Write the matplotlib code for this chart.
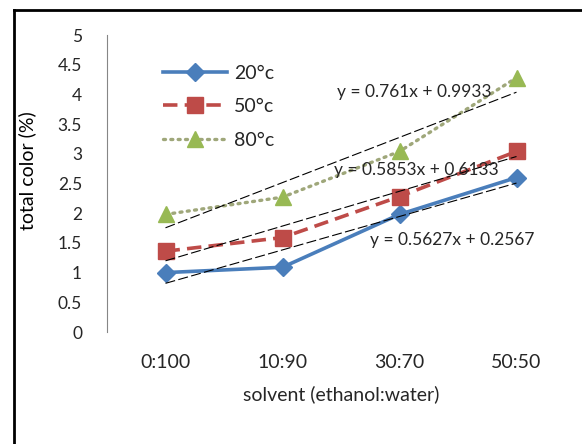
import numpy as np
import matplotlib
matplotlib.use("Agg")
import matplotlib.pyplot as plt
from matplotlib.lines import Line2D

plt.rcParams['font.family'] = ['Lato', 'DejaVu Sans']

# data
categories = ["0:100", "10:90", "30:70", "50:50"]
temp_20 = [1.00, 1.09, 1.98, 2.60]
temp_50 = [1.36, 1.59, 2.28, 3.04]
temp_80 = [1.98, 2.27, 3.04, 4.28]
series_labels = ["20°c", "50°c", "80°c"]
trend_slope = [0.5627, 0.5853, 0.761]
trend_icpt = [0.2567, 0.6133, 0.9933]
trend_text = ["y = 0.5627x + 0.2567", "y = 0.5853x + 0.6133", "y = 0.761x + 0.9933"]
yticks = [0, 0.5, 1, 1.5, 2, 2.5, 3, 3.5, 4, 4.5, 5]

W, H = 582, 444
fig = plt.figure(figsize=(W / 100, H / 100), dpi=100)
ax = fig.add_axes([107 / W, 1 - 332 / H, (575 - 107) / W, (332 - 35) / H])

x = np.arange(len(categories))
ax.plot(x, temp_20, color='#4A7EBB', lw=2.6, marker='D', ms=9.5, label=series_labels[0])
ax.plot(x, temp_50, color='#BE4B48', lw=2.6, ls=(0, (4, 2)), marker='s', ms=11, label=series_labels[1])
ax.plot(x, temp_80, color='#9FA77A', lw=2.4, ls=(0, (0.6, 1.6)), dash_capstyle='round',
        marker='^', ms=12, mfc='#98B954', mec='#98B954', label=series_labels[2])

# linear trendlines (Excel uses x = 1..4)
for m, b in zip(trend_slope, trend_icpt):
    ax.plot(x, m * (x + 1) + b, color='black', lw=0.8, ls=(0, (9, 3)), zorder=3)

# equation labels, placed in figure pixels
fig.text(414 / W, 1 - 92 / H, trend_text[2], fontsize=12.5, color='#262626', ha='center', va='center')
fig.text(416 / W, 1 - 170 / H, trend_text[1], fontsize=12.5, color='#262626', ha='center', va='center')
fig.text(452 / W, 1 - 240 / H, trend_text[0], fontsize=12.5, color='#262626', ha='center', va='center')

ax.set_xlim(-0.5, 3.5)
ax.set_ylim(0, 5)
ax.set_yticks(yticks)
ax.set_yticklabels([f"{t:g}" for t in yticks])
ax.set_xticks(x)
ax.set_xticklabels(categories)
ax.tick_params(axis='y', length=0, pad=18, labelsize=12.5, labelcolor='#262626')
ax.tick_params(axis='x', length=0, pad=16, labelsize=14, labelcolor='#262626')
for s in ['top', 'right', 'bottom']:
    ax.spines[s].set_visible(False)
ax.spines['left'].set_color('#868686')
ax.spines['left'].set_linewidth(0.8)

ax.set_xlabel("solvent (ethanol:water)", fontsize=14, color='#262626', labelpad=10)
ax.set_ylabel("total color (%)", fontsize=14, color='black')
ax.yaxis.set_label_coords((36 - 107) / (575 - 107), (332 - 171) / (332 - 35))

leg = ax.legend(loc='upper left', bbox_to_anchor=((155 - 107) / (575 - 107), 1 - (57 - 35) / (332 - 35)),
                frameon=False, fontsize=14, handlelength=3.3, labelspacing=0.85,
                handletextpad=0.35, borderaxespad=0)
for t in leg.get_texts():
    t.set_color('#262626')

# outer frame (left and top visible only)
fig.add_artist(Line2D([14 / W, 14 / W], [0, 1 - 10 / H], color='black', lw=2))
fig.add_artist(Line2D([14 / W, 1], [1 - 10 / H, 1 - 10 / H], color='black', lw=2))

fig.savefig("out.png", dpi=100)
